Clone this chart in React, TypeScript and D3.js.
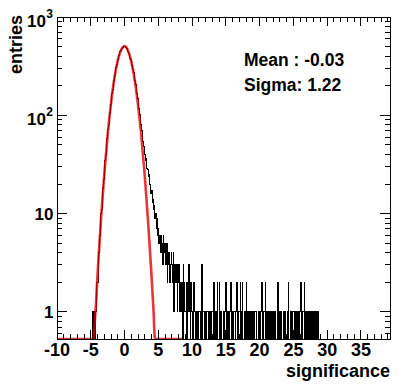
import * as d3 from 'd3';
import React from 'react';

// histogram binning
const binWidth = 0.1;
const xMin = -10;
const xMax = 39.3;
const yMin = 0.53;
const yMax = 1000;

// counts per 0.1 bin starting at -5.0
const coreStart = -5;
const coreCounts = [
  0, 0, 0, 1, 0, 1, 0, 1, 1, 2,
  2, 4, 4, 6, 7, 10, 11, 15, 18, 22,
  27, 35, 40, 51, 58, 71, 80, 97, 108, 129,
  143, 167, 183, 210, 228, 256, 275, 306, 325, 356,
  372, 402, 417, 442, 455, 474, 480, 495, 496, 503,
  497, 498, 484, 479, 460, 450, 425, 410, 382, 366,
  340, 318, 295, 270, 249, 226, 205, 184, 166, 148,
  131, 117, 103, 91, 80, 70, 61, 54, 48, 44,
  40, 35, 36, 29, 28, 24, 25, 20, 19, 16,
  17, 13, 14, 11, 12, 9, 10, 7, 9, 6,
];

// counts per 0.1 bin starting at 5.0
const tailStart = 5;
const tailCounts = [
  7, 5, 6, 4, 6, 5, 3, 6, 4, 5,
  4, 3, 5, 2, 4, 3, 4, 2, 3, 4,
  3, 2, 4, 1, 3, 2, 3, 2, 1, 3,
  2, 3, 1, 2, 1, 2, 0, 3, 2, 1,
  1, 2, 0, 2, 1, 3, 1, 0, 2, 1,
  1, 0, 2, 1, 1, 0, 0, 1, 0, 1,
  1, 1, 0, 0, 3, 0, 1, 1, 0, 1,
  0, 0, 1, 1, 1, 0, 1, 0, 0, 1,
  1, 0, 2, 0, 1, 1, 0, 2, 0, 0,
  2, 0, 1, 1, 0, 0, 1, 0, 1, 1,
  2, 0, 0, 1, 0, 1, 1, 2, 0, 1,
  0, 0, 1, 1, 0, 1, 2, 0, 0, 1,
  1, 2, 0, 1, 2, 0, 0, 1, 1, 0,
  2, 0, 1, 0, 0, 1, 1, 0, 1, 0,
  1, 0, 0, 1, 1, 0, 0, 0, 0, 1,
  0, 1, 1, 2, 0, 0, 1, 1, 2, 0,
  1, 0, 0, 1, 1, 0, 1, 0, 0, 1,
  1, 0, 1, 1, 0, 0, 1, 2, 0, 1,
  0, 1, 1, 0, 0, 1, 0, 1, 1, 0,
  0, 1, 2, 0, 0, 1, 1, 0, 1, 1,
  1, 0, 0, 1, 1, 0, 1, 0, 0, 1,
  1, 2, 0, 0, 1, 1, 2, 0, 1, 0,
  0, 1, 1, 0, 1, 0, 0, 1, 0, 1,
  0, 1, 0, 0, 1, 0, 1, 0, 0, 0,
  0, 0, 0, 0, 0, 0, 0, 0, 0, 0,
];

// gaussian fit curve
const fitX = [-10, -4.6, -4.4, -4.2, -4, -3.5, -3, -2.5, -2, -1.5, -1, -0.5, 0, 0.5, 1, 1.5, 2, 2.5, 3, 3.5, 4, 4.3, 4.5, 8.5];
const fitY = [0, 0.5, 0.8, 1.3, 2.4, 8.5, 25, 63, 133, 240, 362, 462, 505, 457, 352, 230, 127, 60, 24, 8, 2.3, 1.0, 0.5, 0];

const xTicks = [-10, -5, 0, 5, 10, 15, 20, 25, 30, 35];
const yDecades = [1, 10, 100, 1000];
const yBase = ['1', '10', '10', '10'];
const yExp = ['', '', '2', '3'];
const statLines = ['Mean : -0.03', 'Sigma: 1.22'];

const font = '"Liberation Sans", Arial, Helvetica, sans-serif';

export default function App() {
  const W = 407, H = 386;
  const left = 57, right = 390, top = 17, bottom = 339;

  const x = d3.scaleLinear().domain([xMin, xMax]).range([left, right]);
  const y = d3.scaleLog().domain([yMin, yMax]).range([bottom, top]);

  // build full bin content
  const nBins = Math.round((xMax - xMin) / binWidth);
  const counts = new Array(nBins).fill(0);
  const coreIdx = Math.round((coreStart - xMin) / binWidth);
  coreCounts.forEach((c, i) => { counts[coreIdx + i] = c; });
  const tailIdx = Math.round((tailStart - xMin) / binWidth);
  tailCounts.forEach((c, i) => { if (tailIdx + i < nBins) counts[tailIdx + i] = c; });

  const yv = (c) => (c > yMin ? y(c) : bottom);
  let histPath = `M${x(xMin)},${bottom}`;
  counts.forEach((c, i) => {
    const lo = xMin + i * binWidth, hi = lo + binWidth;
    histPath += `L${x(lo)},${yv(c)}L${x(hi)},${yv(c)}`;
  });
  histPath += `L${x(xMax)},${bottom}`;

  const fitLine = d3.line<number>()
    .x((d, i) => x(fitX[i]))
    .y((d) => yv(d))
    .curve(d3.curveMonotoneX);

  const xMinor = d3.range(-10, 40, 1).filter((v) => v % 5 !== 0 && v <= xMax);
  const yMinor = [];
  [0.1, 1, 10, 100].forEach((dec) => {
    for (let k = 2; k <= 9; k++) {
      const v = dec * k;
      if (v >= yMin && v <= yMax) yMinor.push(v);
    }
  });

  return (
    <svg width={W} height={H} style={{ position: 'absolute', left: 0, top: 0, background: '#fff' }}>
      <defs>
        <clipPath id="frame">
          <rect x={left} y={top} width={right - left} height={bottom - top} />
        </clipPath>
      </defs>
      <rect x={0} y={0} width={W} height={H} fill="#fff" />

      <g clipPath="url(#frame)">
        <path d={histPath} fill="none" stroke="#000" strokeWidth={1} shapeRendering="crispEdges" />
        <path d={fitLine(fitY) || ''} fill="none" stroke="#dd0000" strokeOpacity={0.78} strokeWidth={2.6} strokeLinejoin="round" />
      </g>

      <g stroke="#000" strokeWidth={1} shapeRendering="crispEdges">
        <rect x={left} y={top} width={right - left} height={bottom - top} fill="none" />
        {xTicks.map((t) => (
          <g key={'xt' + t}>
            <line x1={x(t)} x2={x(t)} y1={bottom} y2={bottom - 9} />
            <line x1={x(t)} x2={x(t)} y1={top} y2={top + 9} />
          </g>
        ))}
        {xMinor.map((t) => (
          <g key={'xm' + t}>
            <line x1={x(t)} x2={x(t)} y1={bottom} y2={bottom - 5} />
            <line x1={x(t)} x2={x(t)} y1={top} y2={top + 5} />
          </g>
        ))}
        {yDecades.map((t) => (
          <g key={'yt' + t}>
            <line x1={left} x2={left + 10} y1={y(t)} y2={y(t)} />
            <line x1={right} x2={right - 10} y1={y(t)} y2={y(t)} />
          </g>
        ))}
        {yMinor.map((t) => (
          <g key={'ym' + t}>
            <line x1={left} x2={left + 5} y1={y(t)} y2={y(t)} />
            <line x1={right} x2={right - 5} y1={y(t)} y2={y(t)} />
          </g>
        ))}
      </g>

      <g fontFamily={font} fontWeight="bold" fill="#000">
        {xTicks.map((t) => (
          <text key={'xl' + t} x={x(t)} y={356} fontSize={18} textAnchor="middle">{t}</text>
        ))}
        {yDecades.map((t, i) => (
          yExp[i] ? (
            <g key={'yl' + t}>
              <text x={46} y={y(t) + 9.5} fontSize={17} textAnchor="end">{yBase[i]}</text>
              <text x={53} y={y(t) + 1} fontSize={12} textAnchor="end">{yExp[i]}</text>
            </g>
          ) : (
            <text key={'yl' + t} x={53.5} y={y(t) + 6} fontSize={17} textAnchor="end">{yBase[i]}</text>
          )
        ))}
        <text x={right} y={377} fontSize={18} textAnchor="end">significance</text>
        <text transform="translate(21.5,15) rotate(-90)" fontSize={18} textAnchor="end">entries</text>
        {statLines.map((s, i) => (
          <text key={s} x={244} y={66 + i * 25} fontSize={17.5}>{s}</text>
        ))}
      </g>
    </svg>
  );
}
